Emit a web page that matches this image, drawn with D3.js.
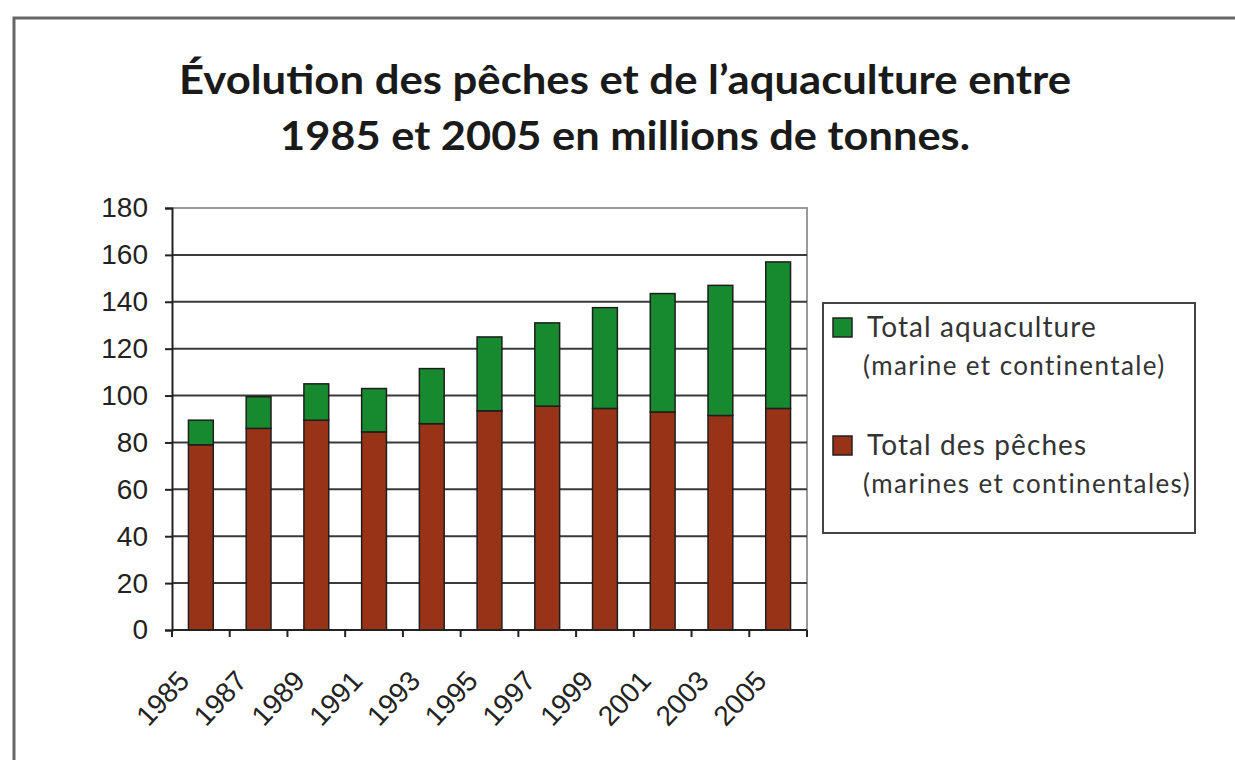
<!DOCTYPE html>
<html>
<head>
<meta charset="utf-8">
<script src="https://cdn.jsdelivr.net/npm/d3@7"></script>
<style>
  body { margin: 0; background: #fff; }
  svg { display: block; }
</style>
</head>
<body>
<svg id="chart" width="1235" height="760"></svg>
<script>
// data (millions de tonnes)
const years = ["1985", "1987", "1989", "1991", "1993", "1995", "1997", "1999", "2001", "2003", "2005"];
const peches = [79, 86, 89.5, 84.5, 88, 93.5, 95.5, 94.5, 93, 91.5, 94.5];
const aquaculture = [10.5, 13.5, 15.5, 18.5, 23.5, 31.5, 35.5, 43, 50.5, 55.5, 62.5];
const yTicks = [0, 20, 40, 60, 80, 100, 120, 140, 160, 180];

const titleLines = ["Évolution des pêches et de l’aquaculture entre", "1985 et 2005 en millions de tonnes."];
const legendItems = [
  { label: "Total aquaculture", sub: "(marine et continentale)", color: "#17892f" },
  { label: "Total des pêches", sub: "(marines et continentales)", color: "#993318" }
];

const svg = d3.select("#chart");
const margin = { top: 208, right: 428, bottom: 130, left: 172 };
const width = 1235, height = 760;

// outer frame (top + left edges only visible)
svg.append("path")
  .attr("d", `M14,${height} L14,18 L${width},18`)
  .attr("fill", "none")
  .attr("stroke", "#666")
  .attr("stroke-width", 3);

// title, stretched a little to the width of the original's narrower typeface
const titleWidths = [892, 690];
svg.append("g")
  .selectAll("text")
  .data(titleLines)
  .join("text")
    .attr("x", 625)
    .attr("y", (d, i) => 94 + i * 56)
    .attr("text-anchor", "middle")
    .attr("font-family", "Lato, 'Open Sans', sans-serif")
    .attr("font-weight", "bold")
    .attr("font-size", 40)
    .attr("textLength", (d, i) => titleWidths[i])
    .attr("lengthAdjust", "spacingAndGlyphs")
    .attr("fill", "#1a1a1a")
    .text(d => d);

const x = d3.scaleBand()
  .domain(years)
  .range([margin.left, width - margin.right])
  .paddingInner(0.57)
  .paddingOuter(0.285);

const y = d3.scaleLinear()
  .domain([0, 180])
  .range([height - margin.bottom, margin.top]);

const x0 = margin.left, x1 = width - margin.right;

// plot frame: top and right borders in light grey
svg.append("path")
  .attr("d", `M${x0},${y(180)} L${x1},${y(180)} L${x1},${y(0)}`)
  .attr("fill", "none")
  .attr("stroke", "#9a9a9a")
  .attr("stroke-width", 2);

// gridlines
svg.append("g")
  .selectAll("line")
  .data(yTicks.filter(t => t > 0 && t < 180))
  .join("line")
    .attr("x1", x0)
    .attr("x2", x1)
    .attr("y1", d => y(d))
    .attr("y2", d => y(d))
    .attr("stroke", "#3a3a3a")
    .attr("stroke-width", 2);

// stacked bars
const stacked = d3.stack().keys(["peches", "aquaculture"])(
  years.map((yr, i) => ({ year: yr, peches: peches[i], aquaculture: aquaculture[i] }))
);
const colors = { peches: "#993318", aquaculture: "#17892f" };

svg.append("g")
  .selectAll("g")
  .data(stacked)
  .join("g")
    .attr("fill", d => colors[d.key])
  .selectAll("rect")
  .data(d => d)
  .join("rect")
    .attr("x", d => x(d.data.year))
    .attr("y", d => y(d[1]))
    .attr("width", x.bandwidth())
    .attr("height", d => y(d[0]) - y(d[1]))
    .attr("stroke", "#1e1e1e")
    .attr("stroke-width", 1.5);

// y axis
const yAxis = svg.append("g")
  .attr("transform", `translate(${x0},0)`)
  .call(d3.axisLeft(y).tickValues(yTicks).tickSize(7).tickPadding(17));
yAxis.select(".domain").attr("stroke", "#222").attr("stroke-width", 2);
yAxis.selectAll(".tick line").attr("stroke", "#222").attr("stroke-width", 2);
yAxis.selectAll(".tick text")
  .attr("font-family", "'Liberation Sans', Arial, sans-serif")
  .attr("font-size", 28)
  .attr("fill", "#222");

// x axis: ticks on category boundaries
const step = x.step();
const boundaries = d3.range(years.length + 1).map(i => x0 + i * step);
svg.append("line")
  .attr("x1", x0).attr("x2", x1)
  .attr("y1", y(0)).attr("y2", y(0))
  .attr("stroke", "#222").attr("stroke-width", 2);
svg.append("g")
  .selectAll("line")
  .data(boundaries)
  .join("line")
    .attr("x1", d => d).attr("x2", d => d)
    .attr("y1", y(0)).attr("y2", y(0) + 7)
    .attr("stroke", "#222")
    .attr("stroke-width", 2);

svg.append("g")
  .selectAll("text")
  .data(years)
  .join("text")
    .attr("transform", d => `translate(${x(d) + x.bandwidth() / 2 - 10},${y(0) + 52}) rotate(-47)`)
    .attr("text-anchor", "end")
    .attr("font-family", "'Liberation Sans', Arial, sans-serif")
    .attr("font-size", 28)
    .attr("fill", "#222")
    .text(d => d);

// legend
const legend = svg.append("g");
legend.append("rect")
  .attr("x", 823).attr("y", 303)
  .attr("width", 372).attr("height", 230)
  .attr("fill", "#fff")
  .attr("stroke", "#444")
  .attr("stroke-width", 2);

const item = legend.selectAll("g.item")
  .data(legendItems)
  .join("g")
    .attr("class", "item")
    .attr("transform", (d, i) => `translate(833,${318 + i * 118})`);
item.append("rect")
  .attr("width", 19).attr("height", 19)
  .attr("fill", d => d.color)
  .attr("stroke", "#222")
  .attr("stroke-width", 1.5);
item.append("text")
  .attr("x", 34).attr("y", 19)
  .attr("font-family", "Lato, 'Open Sans', sans-serif")
  .attr("font-size", 28)
  .attr("letter-spacing", 1.1)
  .attr("fill", "#333")
  .text(d => d.label);
item.append("text")
  .attr("x", 30).attr("y", 57)
  .attr("font-family", "Lato, 'Open Sans', sans-serif")
  .attr("font-size", 26)
  .attr("letter-spacing", 1.4)
  .attr("fill", "#333")
  .text(d => d.sub);
</script>
</body>
</html>
